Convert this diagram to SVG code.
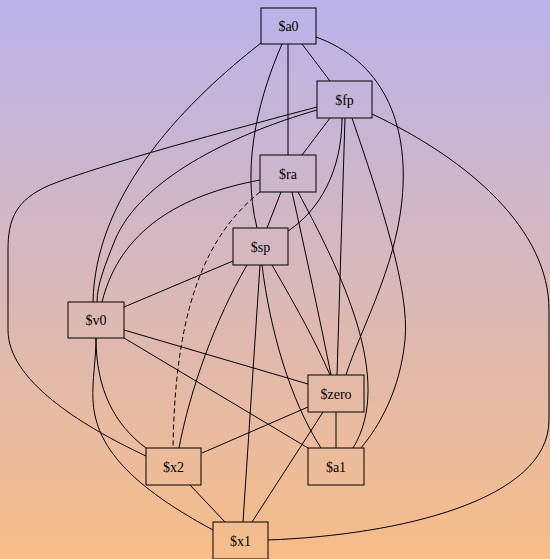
<svg xmlns="http://www.w3.org/2000/svg" width="550" height="559" viewBox="0 0 550 559">
<defs>
<linearGradient id="bg" x1="0" y1="0" x2="0" y2="1">
<stop offset="0" stop-color="#bab3eb"/>
<stop offset="1" stop-color="#f7bd89"/>
</linearGradient>
<style>
.n rect{fill:none;stroke:#000;stroke-width:1}
.n text{font-family:"Liberation Serif","Times New Roman",serif;font-size:14px;text-anchor:middle;fill:#000}
#edges path{fill:none;stroke:#000;stroke-width:1}
#edges .d{stroke-dasharray:5,3}
</style>
</defs>
<rect x="0" y="0" width="550" height="559" fill="url(#bg)"/>
<g id="edges">
<path d="M261,43 C175,110 95,200 93,302"/>
<path d="M282,44 C262,90 240,160 257,228"/>
<path d="M288,44 L288,155"/>
<path d="M302,44 L330,81"/>
<path d="M316,37 C380,60 410,120 402,200 C395,270 360,330 346,375"/>
<path d="M317,107 C230,130 100,165 50,185 C15,200 8,220 8,250 L8,330 C8,380 80,425 146,456"/>
<path d="M317,110 C230,135 140,180 115,240 C105,265 97,285 97,302"/>
<path d="M330,118 L302,155"/>
<path d="M342,118 C342,170 320,210 288,231"/>
<path d="M345,118 L337,375"/>
<path d="M352,118 C380,200 410,290 405,340 C400,390 380,425 361,448"/>
<path d="M372,114 C470,160 549,230 549,310 L549,420 C549,500 400,535 268,540"/>
<path d="M260,180 C180,195 120,230 102,302"/>
<path class="d" d="M260,192 C200,240 175,320 173,448"/>
<path d="M281,192 L267,228"/>
<path d="M292,192 C305,250 320,320 331,375"/>
<path d="M298,192 C340,270 395,380 353,448"/>
<path d="M233,261 L124,307"/>
<path d="M247,265 C215,320 190,390 179,448"/>
<path d="M260,265 L243,522"/>
<path d="M262,265 C270,330 290,400 321,448"/>
<path d="M272,265 C295,305 315,340 330,375"/>
<path d="M124,330 L308,384"/>
<path d="M124,338 L308,448"/>
<path d="M96,338 C96,390 115,425 146,448"/>
<path d="M96,338 C96,360 92,380 93,400 C95,440 120,480 213,530"/>
<path d="M308,407 L202,453"/>
<path d="M336,412 L336,448"/>
<path d="M323,412 L252,522"/>
<path d="M190,485 L225,522"/>
</g>
<g id="a0" class="n"><rect x="261" y="8" width="55" height="36"/><text x="288.5" y="31">$a0</text></g>
<g id="fp" class="n"><rect x="317" y="81" width="55" height="37"/><text x="344.5" y="104.5">$fp</text></g>
<g id="ra" class="n"><rect x="260" y="155" width="56" height="37"/><text x="288" y="178.5">$ra</text></g>
<g id="sp" class="n"><rect x="233" y="228" width="55" height="37"/><text x="260.5" y="251.5">$sp</text></g>
<g id="v0" class="n"><rect x="68" y="302" width="56" height="36"/><text x="96" y="325">$v0</text></g>
<g id="zero" class="n"><rect x="308" y="375" width="56" height="37"/><text x="336" y="398.5">$zero</text></g>
<g id="a1" class="n"><rect x="308" y="448" width="56" height="37"/><text x="336" y="471.5">$a1</text></g>
<g id="x2" class="n"><rect x="146" y="448" width="55" height="37"/><text x="173.5" y="471.5">$x2</text></g>
<g id="x1" class="n"><rect x="213" y="522" width="55" height="37"/><text x="240.5" y="545.5">$x1</text></g>
</svg>
